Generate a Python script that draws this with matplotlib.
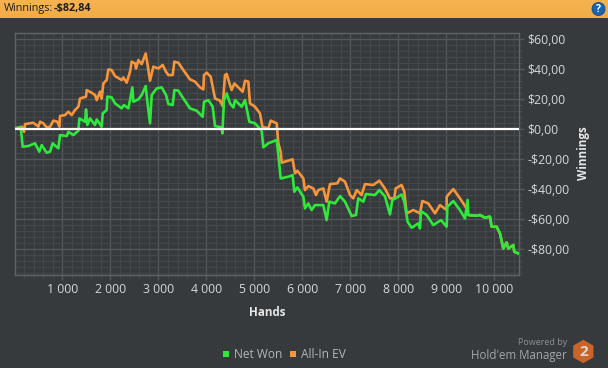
import numpy as np
import matplotlib
matplotlib.use("Agg")
import matplotlib.pyplot as plt
from matplotlib.patches import Rectangle, RegularPolygon, Circle

plt.rcParams['font.family'] = ['Open Sans', 'DejaVu Sans']

bg = "#373a3d"
green = "#2ee83c"
orange = "#f7953a"

ev_hands = [21,153,202,223,327,396,501,535,605,674,744,813,896,938,952,1056,1126,1195,1264,1334,1369,1494,1507,1612,1681,1716,1785,1820,1855,1924,1959,2028,2098,2237,2271,2341,2410,2445,2514,2535,2584,2653,2737,2771,2827,2896,3000,3091,3160,3209,3299,3334,3417,3521,3660,3764,3868,3938,3952,4007,4091,4181,4285,4341,4389,4424,4493,4528,4584,4667,4757,4806,4875,4910,5014,5118,5167,5292,5341,5466,5500,5549,5569,5708,5798,5847,5896,6021,6055,6125,6229,6285,6333,6437,6507,6576,6729,6785,6889,6993,7062,7132,7236,7305,7479,7604,7722,7826,7916,7944,8069,8125,8173,8312,8451,8500,8625,8764,8868,9007,9007,9146,9284,9423,9444,9458,9632,9701,9805,9909,9944,10048,10118,10187,10257,10291,10395,10416,10500]
ev_vals = [0.6,1.8,-1.6,3.5,4.0,4.4,1.8,5.1,4.0,1.3,1.8,5.8,5.1,1.8,8.9,9.5,11.8,9.5,12.9,15.1,20.6,21.8,26.2,24.4,22.9,19.5,25.1,20.6,30.6,32.9,40.0,39.5,35.5,32.9,34.6,31.1,38.4,45.1,44.0,40.6,46.2,43.5,50.6,44.0,32.4,41.8,40.6,42.9,38.4,36.2,36.2,45.1,44.4,39.5,33.3,31.8,28.0,26.6,36.2,37.8,35.1,20.6,19.1,15.5,36.2,36.9,29.5,26.2,30.6,28.0,25.1,32.4,31.8,17.3,15.1,10.6,1.8,0.6,5.8,4.0,-9.3,-14.9,-22.2,-20.9,-20.0,-29.3,-27.6,-32.7,-40.5,-37.8,-39.4,-43.8,-40.5,-39.4,-48.2,-36.5,-36.0,-32.7,-34.9,-43.8,-46.0,-40.5,-43.8,-36.5,-37.1,-34.2,-39.5,-46.0,-46.0,-39.4,-37.1,-41.6,-56.0,-53.8,-56.0,-47.8,-49.4,-56.0,-50.5,-53.8,-44.9,-39.8,-46.0,-52.7,-56.7,-57.1,-57.6,-57.1,-58.9,-58.2,-64.9,-64.9,-69.4,-79.4,-75.4,-79.4,-77.1,-81.6,-82.7]

net_hands = [21,133,174,292,431,521,570,674,744,799,917,952,1091,1126,1230,1334,1355,1473,1494,1521,1577,1681,1716,1820,1841,1924,1938,2028,2098,2237,2285,2375,2410,2459,2480,2584,2653,2737,2771,2827,2862,2966,3070,3160,3209,3299,3334,3417,3521,3660,3799,3924,3952,4042,4132,4181,4320,4334,4368,4424,4493,4563,4598,4736,4806,4896,5014,5153,5188,5292,5466,5500,5549,5708,5798,5833,5896,6021,6055,6125,6194,6264,6437,6507,6562,6680,6785,6889,7028,7118,7166,7271,7326,7514,7604,7722,7826,7875,7944,8069,8125,8194,8278,8416,8451,8472,8590,8729,8833,8889,9007,9021,9146,9284,9389,9444,9458,9632,9701,9805,9909,9944,10048,10118,10187,10257,10291,10395,10416,10500]
net_vals = [0.6,1.3,-11.6,-11.1,-9.3,-14.9,-10.5,-15.6,-14.9,-9.3,-12.7,-3.8,-4.5,-1.6,-3.8,-0.9,7.3,5.1,13.3,2.9,7.3,2.9,6.6,1.8,10.6,12.9,21.8,21.3,17.3,14.0,16.2,14.0,19.5,28.0,18.4,20.0,22.9,28.9,18.4,4.0,22.9,27.3,28.0,22.9,16.9,16.2,26.2,25.8,20.6,14.0,12.4,8.4,18.4,19.5,15.1,2.2,1.3,-2.7,19.5,24.0,17.3,14.6,19.5,15.1,19.5,5.1,4.0,-0.9,-12.0,-9.3,-7.1,-17.1,-32.7,-31.6,-30.5,-41.6,-38.7,-44.9,-52.7,-49.4,-53.8,-50.5,-50.5,-60.5,-48.2,-49.4,-44.5,-48.2,-57.8,-57.1,-46.0,-48.2,-43.1,-43.8,-40.5,-44.7,-56.7,-47.1,-46.0,-43.4,-48.2,-61.6,-65.6,-62.7,-66.0,-54.5,-57.1,-63.8,-61.6,-60.5,-64.9,-51.6,-47.8,-53.8,-59.4,-47.1,-57.1,-57.6,-57.1,-58.9,-58.2,-64.9,-64.9,-69.4,-79.4,-75.4,-79.4,-77.1,-81.6,-82.7]

x_ticks = [1000,2000,3000,4000,5000,6000,7000,8000,9000,10000]
x_labels = ["1 000","2 000","3 000","4 000","5 000","6 000","7 000","8 000","9 000","10 000"]
y_ticks = [60,40,20,0,-20,-40,-60,-80]
y_labels = ["$60,00","$40,00","$20,00","$0,00","-$20,00","-$40,00","-$60,00","-$80,00"]

W, H = 608, 368
fig = plt.figure(figsize=(W/100, H/100), dpi=100, facecolor=bg)

# chrome drawn in pixel coords
chrome = fig.add_axes([0, 0, 1, 1])
chrome.set_xlim(0, W)
chrome.set_ylim(H, 0)
chrome.axis("off")
grad = np.linspace(0, 1, 18).reshape(-1, 1, 1) * (np.array([0.945, 0.675, 0.28]) - np.array([0.965, 0.70, 0.31])) + np.array([0.965, 0.70, 0.31])
chrome.imshow(grad, extent=[0, W, 18, 0], aspect="auto", interpolation="nearest")
chrome.set_xlim(0, W)
chrome.set_ylim(H, 0)
chrome.text(4, 9, "Winnings:", fontsize=7.8, color="#1c1c1c", va="center")
chrome.text(54, 9, "-$82,84", fontsize=7.8, color="#1c1c1c", va="center", fontweight="bold")
chrome.add_patch(Circle((598.5, 9), 6.5, fc="#1b64ad", ec="#0f4a85", lw=0.6))
chrome.text(598.5, 9, "?", fontsize=7.5, color="white", ha="center", va="center", fontweight="bold")

chrome.add_patch(Rectangle((223, 351), 6, 6, fc=green, ec="none"))
chrome.text(234, 354.5, "Net Won", fontsize=8.6, color="#b4b6b8", va="center")
chrome.add_patch(Rectangle((289.5, 351), 6, 6, fc=orange, ec="none"))
chrome.text(301, 354.5, "All-In EV", fontsize=8.6, color="#b4b6b8", va="center")
chrome.text(567, 342.5, "Powered by", fontsize=6.5, color="#8d9092", ha="right", va="center")
chrome.text(567, 355, "Hold'em Manager", fontsize=8.3, color="#a4a6a8", ha="right", va="center")
chrome.add_patch(RegularPolygon((583.3, 351.5), 6, radius=11.7, fc="#c9652b", ec="none"))
chrome.text(583.3, 351.5, "2", fontsize=11, color="#d8d8d8", ha="center", va="center", fontweight="bold")

left, right, top, bottom = 15.3, 518.7, 33.2, 274.7
ax = fig.add_axes([left/W, 1 - bottom/H, (right-left)/W, (bottom-top)/H])
ax.set_facecolor(bg)
ax.set_xlim(20, 10508)
ax.set_ylim(-96.9, 64.1)

ax.set_xticks(x_ticks)
ax.set_xticklabels(x_labels)
ax.set_xticks(np.arange(200, 10508, 200), minor=True)
ax.set_yticks(y_ticks)
ax.set_yticklabels(y_labels)
ax.set_yticks(np.arange(-96, 64, 4), minor=True)
ax.yaxis.tick_right()
ax.yaxis.set_label_position("right")

ax.grid(True, which="major", color="#55585b", lw=1.0)
ax.grid(True, which="minor", color="#444749", lw=0.9)
ax.set_axisbelow(True)
ax.tick_params(which="major", length=3.5, width=1, color="#56595c", labelcolor="#d6d7d8", labelsize=8.8)
ax.tick_params(which="minor", length=2.5, width=1, color="#46494c")
ax.tick_params(axis="x", which="major", pad=2.2)
ax.tick_params(axis="y", which="major", pad=2.8)
for s in ax.spines.values():
    s.set_color("#606366")
    s.set_linewidth(1)

ax.plot(ev_hands, ev_vals, color=orange, lw=1.9, solid_joinstyle="round", zorder=3)
ax.plot(net_hands, net_vals, color=green, lw=1.9, solid_joinstyle="round", zorder=4)
ax.axhline(0, color="white", lw=1.6, zorder=5)

ax.set_xlabel("Hands", fontsize=8.4, fontweight="bold", color="#e6e6e6")
ax.xaxis.set_label_coords((267-left)/(right-left), -(313-bottom)/(bottom-top), transform=ax.transAxes)
ax.xaxis.label.set_va("center")
ax.set_ylabel("Winnings", fontsize=8.4, fontweight="bold", color="#e6e6e6")
ax.yaxis.set_label_coords((583-left)/(right-left), (bottom-153)/(bottom-top), transform=ax.transAxes)
ax.yaxis.label.set_va("center")

fig.savefig("out.png", dpi=100, facecolor=bg)
